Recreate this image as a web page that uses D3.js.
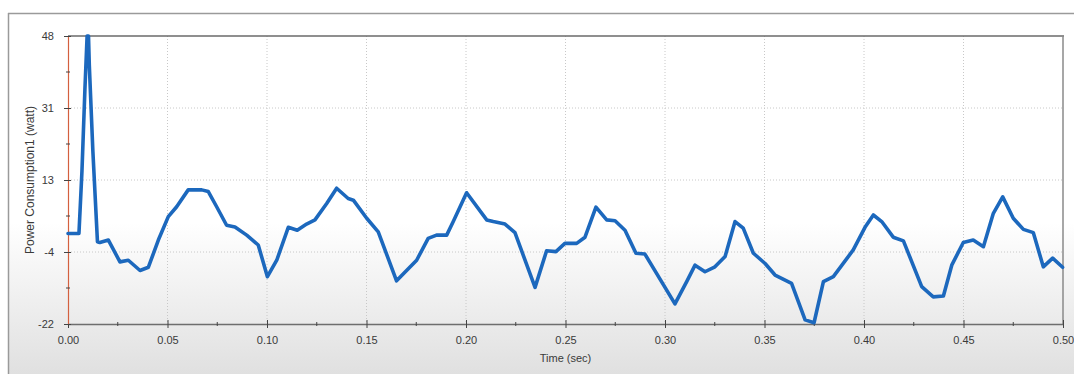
<!DOCTYPE html>
<html>
<head>
<meta charset="utf-8">
<script src="https://cdn.jsdelivr.net/npm/d3@7"></script>
<style>
  html, body { margin: 0; padding: 0; background: #ffffff; }
  svg { display: block; }
  text { font-family: "Liberation Sans", Arial, sans-serif; fill: #3a3a3a; }
</style>
</head>
<body>
<svg id="chart" width="1074" height="374"></svg>
<script>
// Sample times (sec)
const timeSec = [
  0.0000, 0.0055, 0.0070, 0.0085, 0.0096, 0.0100, 0.0103, 0.0107, 0.0125, 0.0148,
  0.0160, 0.0203, 0.0261, 0.0303, 0.0362, 0.0404, 0.0454, 0.0504, 0.0546, 0.0604,
  0.0672, 0.0705, 0.0747, 0.0797, 0.0839, 0.0898, 0.0956, 0.1002, 0.1049, 0.1107,
  0.1152, 0.1199, 0.1241, 0.1300, 0.1350, 0.1408, 0.1434, 0.1501, 0.1559, 0.1651,
  0.1752, 0.1810, 0.1852, 0.1903, 0.1936, 0.2003, 0.2104, 0.2137, 0.2196, 0.2246,
  0.2347, 0.2405, 0.2452, 0.2497, 0.2556, 0.2598, 0.2653, 0.2707, 0.2749, 0.2799,
  0.2854, 0.2899, 0.3050, 0.3109, 0.3151, 0.3201, 0.3251, 0.3302, 0.3352, 0.3393,
  0.3444, 0.3503, 0.3553, 0.3636, 0.3704, 0.3749, 0.3796, 0.3846, 0.3946, 0.4005,
  0.4047, 0.4089, 0.4147, 0.4198, 0.4290, 0.4348, 0.4399, 0.4441, 0.4499, 0.4549,
  0.4600, 0.4650, 0.4697, 0.4750, 0.4801, 0.4851, 0.4901, 0.4948, 0.4998
];

// Power Consumption1 (watt)
const powerWatt = [
  0.0, 0.0, 15.0, 35.0, 48.0, 41.0, 48.0, 41.0, 20.0, -2.0,
  -2.2, -1.6, -6.9, -6.5, -9.0, -8.2, -1.6, 4.1, 6.5, 10.6,
  10.6, 10.2, 6.5, 2.0, 1.6, -0.4, -2.8, -10.5, -6.5, 1.5,
  0.8, 2.3, 3.3, 7.3, 11.0, 8.5, 8.1, 3.7, 0.4, -11.5,
  -6.5, -1.2, -0.4, -0.4, 2.9, 9.9, 3.3, 2.9, 2.3, 0.2,
  -13.1, -4.2, -4.4, -2.4, -2.4, -0.9, 6.4, 3.3, 3.1, 0.8,
  -4.8, -5.0, -17.1, -11.7, -7.7, -9.3, -8.1, -5.6, 2.9, 1.3,
  -4.8, -7.3, -10.1, -12.1, -21.0, -21.7, -11.7, -10.5, -4.0, 1.5,
  4.5, 2.9, -0.9, -1.8, -12.9, -15.4, -15.2, -7.7, -2.2, -1.6,
  -3.2, 4.9, 8.9, 3.7, 1.0, 0.2, -8.1, -6.0, -8.2
];

// Axis ticks
const xTicks = [0.00, 0.05, 0.10, 0.15, 0.20, 0.25, 0.30, 0.35, 0.40, 0.45, 0.50];
const xMinorTicks = [0.025, 0.075, 0.125, 0.175, 0.225, 0.275, 0.325, 0.375, 0.425, 0.475];
const yTicks = [48, 30.5, 13, -4.5, -22];
const yTickLabels = ["48", "31", "13", "-4", "-22"];
const yMinorTicks = [39.25, 21.75, 4.25, -13.25];

const svg = d3.select("#chart");
const W = 1074, H = 374;
const plot = { left: 68, right: 1063, top: 36, bottom: 324 };

// Panel background gradient
const defs = svg.append("defs");
const grad = defs.append("linearGradient")
  .attr("id", "panelGrad").attr("x1", 0).attr("y1", 0).attr("x2", 0).attr("y2", 1);
grad.append("stop").attr("offset", "0%").attr("stop-color", "#ffffff");
grad.append("stop").attr("offset", "58%").attr("stop-color", "#ffffff");
grad.append("stop").attr("offset", "100%").attr("stop-color", "#e0e0e0");

svg.append("rect")
  .attr("x", 8).attr("y", 13).attr("width", W - 8).attr("height", H - 13)
  .attr("fill", "url(#panelGrad)");
// Panel frame
svg.append("line").attr("x1", 8).attr("x2", W).attr("y1", 13.5).attr("y2", 13.5)
  .attr("stroke", "#9a9a9a").attr("stroke-width", 1.5);
svg.append("line").attr("x1", 8.5).attr("x2", 8.5).attr("y1", 13).attr("y2", H)
  .attr("stroke", "#9a9a9a").attr("stroke-width", 1.5);

const x = d3.scaleLinear().domain([0, 0.5]).range([plot.left, plot.right]);
const y = d3.scaleLinear().domain([-22, 48]).range([plot.bottom, plot.top]);

// Grid lines
const grid = svg.append("g");
grid.selectAll("line.gx").data(xTicks.slice(1, -1)).join("line")
  .attr("x1", d => x(d)).attr("x2", d => x(d))
  .attr("y1", plot.top).attr("y2", plot.bottom)
  .attr("stroke", "#c8c8c8").attr("stroke-dasharray", "1,2");
grid.selectAll("line.gy").data(yTicks.slice(1, -1)).join("line")
  .attr("x1", plot.left).attr("x2", plot.right)
  .attr("y1", d => y(d)).attr("y2", d => y(d))
  .attr("stroke", "#c8c8c8").attr("stroke-dasharray", "1,2");

// Plot borders (top, right)
svg.append("line").attr("x1", plot.left).attr("x2", plot.right + 1)
  .attr("y1", plot.top).attr("y2", plot.top)
  .attr("stroke", "#6a6a6a").attr("stroke-width", 1.5);
svg.append("line").attr("x1", plot.right).attr("x2", plot.right)
  .attr("y1", plot.top).attr("y2", plot.bottom)
  .attr("stroke", "#8a8a8a").attr("stroke-width", 1.5);

// X axis
const xAxis = d3.axisBottom(x).tickValues(xTicks).tickFormat(d3.format(".2f"))
  .tickSizeInner(4).tickSizeOuter(0).tickPadding(8);
const gx = svg.append("g").attr("transform", `translate(0,${plot.bottom})`).call(xAxis);
gx.select(".domain").attr("stroke", "#6e6e6e").attr("stroke-width", 1.5);
gx.selectAll(".tick line").attr("stroke", "#444").attr("y1", -4);
gx.selectAll(".tick text").attr("font-size", 11).attr("fill", "#3a3a3a")
  .attr("font-family", "Liberation Sans, Arial, sans-serif");
svg.append("g").selectAll("line").data(xMinorTicks).join("line")
  .attr("x1", d => x(d)).attr("x2", d => x(d))
  .attr("y1", plot.bottom - 2).attr("y2", plot.bottom + 2)
  .attr("stroke", "#444");

// Y axis
const yAxis = d3.axisLeft(y).tickValues(yTicks).tickFormat((d, i) => yTickLabels[i])
  .tickSizeInner(4).tickSizeOuter(0).tickPadding(10);
const gy = svg.append("g").attr("transform", `translate(${plot.left},0)`).call(yAxis);
gy.select(".domain").attr("stroke", "#d4603f").attr("stroke-width", 1.2);
gy.selectAll(".tick line").attr("stroke", "#444").attr("x1", 3);
gy.selectAll(".tick text").attr("font-size", 11).attr("fill", "#3a3a3a")
  .attr("font-family", "Liberation Sans, Arial, sans-serif");
svg.append("g").selectAll("line").data(yMinorTicks).join("line")
  .attr("x1", plot.left - 2).attr("x2", plot.left + 2)
  .attr("y1", d => y(d)).attr("y2", d => y(d))
  .attr("stroke", "#444");

// Axis titles
svg.append("text")
  .attr("transform", `translate(31,${(plot.top + plot.bottom) / 2}) rotate(-90)`)
  .attr("text-anchor", "middle").attr("dominant-baseline", "middle")
  .attr("font-size", 12).text("Power Consumption1 (watt)");
svg.append("text")
  .attr("x", x(0.25)).attr("y", 362)
  .attr("text-anchor", "middle").attr("font-size", 11).text("Time (sec)");

// Power line
const points = timeSec.map((t, i) => [t, powerWatt[i]]);
const line = d3.line().x(d => x(d[0])).y(d => y(d[1]));
svg.append("path")
  .datum(points)
  .attr("d", line)
  .attr("fill", "none")
  .attr("stroke", "#1c68bd")
  .attr("stroke-width", 3.6)
  .attr("stroke-linejoin", "round")
  .attr("stroke-linecap", "round");
</script>
</body>
</html>
